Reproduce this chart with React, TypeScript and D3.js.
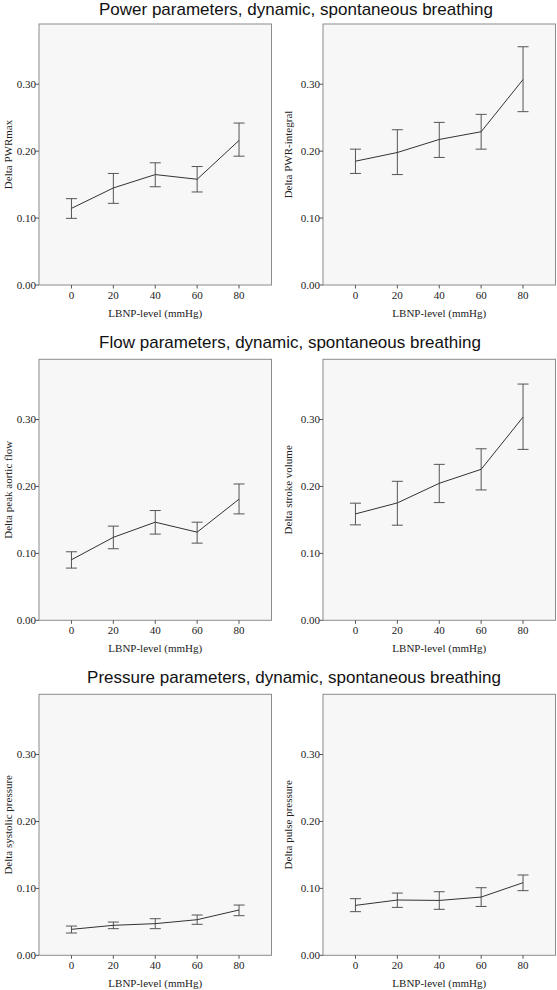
import React from "react";
import * as d3 from "d3";

const levels = [0, 20, 40, 60, 80];
const xTickLabels = ["0", "20", "40", "60", "80"];
const yTicks = [0, 0.1, 0.2, 0.3];

const sectionTitles = [
  "Power parameters, dynamic, spontaneous breathing",
  "Flow parameters, dynamic, spontaneous breathing",
  "Pressure parameters, dynamic, spontaneous breathing",
];

const yTitles = [
  "Delta PWRmax",
  "Delta PWR-integral",
  "Delta peak aortic flow",
  "Delta stroke volume",
  "Delta systolic pressure",
  "Delta pulse pressure",
];

// means, upper and lower error-bar ends per panel
const pwrmaxMean = [0.1145, 0.145, 0.165, 0.158, 0.216];
const pwrmaxHi = [0.129, 0.1667, 0.1826, 0.177, 0.242];
const pwrmaxLo = [0.0996, 0.122, 0.1468, 0.139, 0.1925];

const pwrintMean = [0.185, 0.198, 0.2175, 0.229, 0.307];
const pwrintHi = [0.203, 0.232, 0.243, 0.255, 0.356];
const pwrintLo = [0.1667, 0.165, 0.1906, 0.203, 0.259];

const peakflowMean = [0.0905, 0.124, 0.1466, 0.1317, 0.181];
const peakflowHi = [0.1024, 0.1407, 0.164, 0.1466, 0.2037];
const peakflowLo = [0.078, 0.1069, 0.1288, 0.1153, 0.159];

const strokeMean = [0.159, 0.1754, 0.2047, 0.2256, 0.3036];
const strokeHi = [0.175, 0.2077, 0.233, 0.2563, 0.353];
const strokeLo = [0.1426, 0.1421, 0.1759, 0.1948, 0.2554];

const systolicMean = [0.0388, 0.0448, 0.0473, 0.0532, 0.0677];
const systolicHi = [0.0437, 0.0497, 0.0547, 0.0602, 0.0751];
const systolicLo = [0.0333, 0.0398, 0.0398, 0.0463, 0.0592];

const pulseMean = [0.0746, 0.0826, 0.082, 0.087, 0.1085];
const pulseHi = [0.0846, 0.093, 0.095, 0.101, 0.12];
const pulseLo = [0.0652, 0.0716, 0.0687, 0.073, 0.0966];

const panelMeans = [pwrmaxMean, pwrintMean, peakflowMean, strokeMean, systolicMean, pulseMean];
const panelHi = [pwrmaxHi, pwrintHi, peakflowHi, strokeHi, systolicHi, pulseHi];
const panelLo = [pwrmaxLo, pwrintLo, peakflowLo, strokeLo, systolicLo, pulseLo];

const W = 557;
const H = 990;
const colLeft = [39, 323];
const plotW = 232.5;
const rowTop = [24, 359.3, 694.3];
const plotH = 261;
const titleY = [14.5, 348, 682.5];
const titleX = [296, 290, 294];
const yTitleOffset = [31, 35];

const SERIF = "'Liberation Serif', 'DejaVu Serif', serif";
const SANS = "'Liberation Sans', Arial, sans-serif";

function Panel({ idx }: { idx: number }) {
  const row = Math.floor(idx / 2);
  const col = idx % 2;
  const left = colLeft[col];
  const top = rowTop[row];
  const x = d3.scaleLinear().domain([-15.5, 95.5]).range([left, left + plotW]);
  const y = d3.scaleLinear().domain([0, 0.39]).range([top + plotH, top]);
  const means = panelMeans[idx];
  const hi = panelHi[idx];
  const lo = panelLo[idx];
  const line = d3
    .line<number>()
    .x((_, i) => x(levels[i]))
    .y((d) => y(d));
  const bottom = top + plotH;
  const cap = 5.5;
  return (
    <g>
      <rect x={left} y={top} width={plotW} height={plotH} fill="#f7f7f7" stroke="#8c8c8c" strokeWidth={1} />
      {yTicks.map((t) => (
        <g key={t}>
          <line x1={left - 3.5} x2={left} y1={y(t)} y2={y(t)} stroke="#555" />
          <text x={left - 3} y={y(t)} dy="0.35em" textAnchor="end" fontFamily={SERIF} fontSize={11} fill="#222">
            {d3.format(".2f")(t)}
          </text>
        </g>
      ))}
      {levels.map((l, i) => (
        <g key={l}>
          <line x1={x(l)} x2={x(l)} y1={bottom} y2={bottom + 3.5} stroke="#555" />
          <text x={x(l)} y={bottom + 14} textAnchor="middle" fontFamily={SERIF} fontSize={11} fill="#222">
            {xTickLabels[i]}
          </text>
        </g>
      ))}
      <text
        x={left + plotW / 2}
        y={bottom + 32}
        textAnchor="middle"
        fontFamily={SERIF}
        fontSize={11}
        fill="#222"
      >
        LBNP-level (mmHg)
      </text>
      <text
        transform={`translate(${left - yTitleOffset[col]},${top + plotH / 2}) rotate(-90)`}
        textAnchor="middle"
        dy="0.35em"
        fontFamily={SERIF}
        fontSize={11}
        fill="#222"
      >
        {yTitles[idx]}
      </text>
      {levels.map((l, i) => (
        <g key={"e" + l} stroke="#555" strokeWidth={1}>
          <line x1={x(l)} x2={x(l)} y1={y(hi[i])} y2={y(lo[i])} />
          <line x1={x(l) - cap} x2={x(l) + cap} y1={y(hi[i])} y2={y(hi[i])} />
          <line x1={x(l) - cap} x2={x(l) + cap} y1={y(lo[i])} y2={y(lo[i])} />
        </g>
      ))}
      <path d={line(means) || ""} fill="none" stroke="#333" strokeWidth={1} />
    </g>
  );
}

export default function App() {
  return (
    <svg width={W} height={H} style={{ position: "absolute", left: 0, top: 0, background: "#fff" }}>
      <rect x={0} y={0} width={W} height={H} fill="#fff" />
      {sectionTitles.map((t, i) => (
        <text key={t} x={titleX[i]} y={titleY[i]} textAnchor="middle" fontFamily={SANS} fontSize={17} fill="#111">
          {t}
        </text>
      ))}
      {[0, 1, 2, 3, 4, 5].map((i) => (
        <Panel key={i} idx={i} />
      ))}
    </svg>
  );
}
